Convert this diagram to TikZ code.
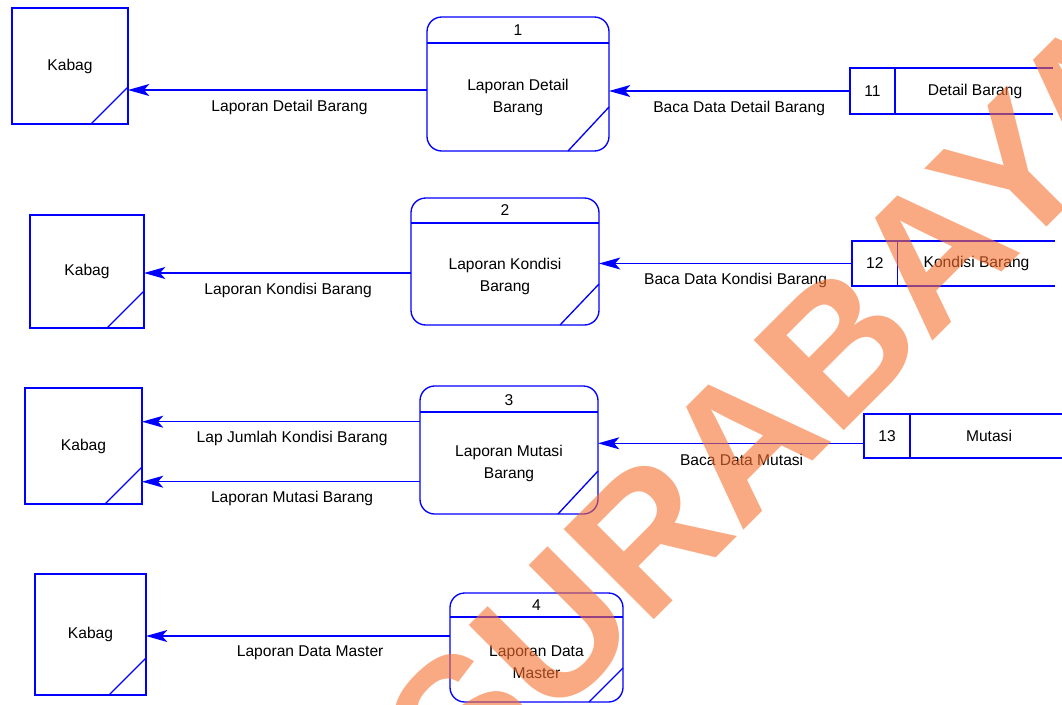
\documentclass[tikz,border=0pt]{standalone}
\usepackage{fontspec}
\setmainfont{Liberation Sans}
\usetikzlibrary{arrows.meta,calc}
\definecolor{dfdblue}{RGB}{0,0,255}
\definecolor{wmorange}{RGB}{247,113,47}
\begin{document}
\begin{tikzpicture}[x=0.75pt,y=-0.75pt,
  every node/.style={font=\fontsize{11.7}{16.5}\selectfont, inner sep=0pt, outer sep=0pt},
  line/.style={draw=dfdblue, line width=1pt},
  entity/.style={line},
  proc/.style={line, rounded corners=11pt},
  numbox/.style={},
  flow/.style={line, -{Stealth[length=16pt,width=9pt,inset=4pt]}},
  lbl/.style={pos=0.46, yshift=-12.75pt}]
\useasboundingbox (0,0) rectangle (1062,704);
\clip (0,0) rectangle (1062,704);

% ---------- Kabag entities ----------
\node[entity, minimum width=87pt, minimum height=87pt] (k1) at (70,66) {Kabag};
\node[entity, minimum width=85.5pt, minimum height=84.75pt] (k2) at (87,271.5) {Kabag};
\node[entity, minimum width=87.75pt, minimum height=87pt] (k3) at (83.5,446) {Kabag};
\node[entity, minimum width=83.25pt, minimum height=90.75pt] (k4) at (90.5,634.5) {Kabag};
\foreach \k in {k1,k2,k3,k4}
  \draw[line] ($(\k.south east)+(-37,0)$) -- ($(\k.south east)+(0,-37)$);

% ---------- Processes ----------
\node[proc, minimum width=136.5pt, minimum height=100.5pt] (p1) at (518,84) {};
\draw[line] ($(p1.north west)+(0,26)$) -- ($(p1.north east)+(0,26)$);
\node (p1n) at ($(p1.north)+(0,13)$) {1};
\node[align=center] (p1t) at ($(p1.north)+(0,80)$) {Laporan Detail\\Barang};
\draw[line] ($(p1.south east)+(-41,0)$) -- ($(p1.south east)+(0,-44)$);

\node[proc, minimum width=141pt, minimum height=95.25pt] (p2) at (505,261.5) {};
\draw[line] ($(p2.north west)+(0,25)$) -- ($(p2.north east)+(0,25)$);
\node (p2n) at ($(p2.north)+(0,12.5)$) {2};
\node[align=center] (p2t) at ($(p2.north)+(0,78)$) {Laporan Kondisi\\Barang};
\draw[line] ($(p2.south east)+(-39,0)$) -- ($(p2.south east)+(0,-41)$);

\node[proc, minimum width=133.5pt, minimum height=96pt] (p3) at (509,450) {};
\draw[line] ($(p3.north west)+(0,26)$) -- ($(p3.north east)+(0,26)$);
\node (p3n) at ($(p3.north)+(0,14)$) {3};
\node[align=center] (p3t) at ($(p3.north)+(0,77)$) {Laporan Mutasi\\Barang};
\draw[line] ($(p3.south east)+(-40,0)$) -- ($(p3.south east)+(0,-43)$);

\node[proc, minimum width=129.75pt, minimum height=81.75pt] (p4) at (536.5,647.5) {};
\draw[line] ($(p4.north west)+(0,24)$) -- ($(p4.north east)+(0,24)$);
\node (p4n) at ($(p4.north)+(0,12)$) {4};
\node[align=center] (p4t) at ($(p4.north)+(0,69)$) {Laporan Data\\Master};
\draw[line] ($(p4.south east)+(-34,0)$) -- ($(p4.south east)+(0,-34)$);

% ---------- Data stores ----------
\node[numbox, minimum width=33.75pt, minimum height=34.5pt] (s11) at (872.5,91) {11};
\draw[line] ($(s11.north west)+(203,0)$) -- (s11.north west) -- (s11.south west) -- ($(s11.south west)+(203,0)$);
\draw[line] (s11.north east) -- (s11.south east);
\node (s11t) at ($(s11.east)+(80,0)$) {Detail Barang};

\node[numbox, minimum width=34.1pt, minimum height=33.75pt] (s12) at (874.75,263.5) {12};
\draw[line] ($(s12.north west)+(203,0)$) -- (s12.north west) -- (s12.south west) -- ($(s12.south west)+(203,0)$);
\draw[line] (s12.north east) -- (s12.south east);
\node (s12t) at ($(s12.east)+(79,0)$) {Kondisi Barang};

\node[numbox, minimum width=34.5pt, minimum height=33pt] (s13) at (887,436) {13};
\draw[line] ($(s13.north west)+(210,0)$) -- (s13.north west) -- (s13.south west) -- ($(s13.south west)+(210,0)$);
\draw[line] (s13.north east) -- (s13.south east);
\node (s13t) at ($(s13.east)+(79,0)$) {Mutasi};

% ---------- Flows ----------
\path (p1.west) ++(0,6) coordinate (f1);
\draw[flow] (f1) -- node[lbl] {Laporan Detail Barang} (f1 -| k1.east);
\draw[flow] (s11.west) -- node[lbl] {Baca Data Detail Barang} (s11.west -| p1.east);

\path (p2.west) ++(0,11.5) coordinate (f2);
\draw[flow] (f2) -- node[lbl] {Laporan Kondisi Barang} (f2 -| k2.east);
\draw[flow] (s12.west) -- node[lbl] {Baca Data Kondisi Barang} (s12.west -| p2.east);

\path (p3.west) ++(0,-28.3) coordinate (f3a);
\path (p3.west) ++(0,31.7) coordinate (f3b);
\draw[flow] (f3a) -- node[lbl] {Lap Jumlah Kondisi Barang} (f3a -| k3.east);
\draw[flow] (f3b) -- node[lbl] {Laporan Mutasi Barang} (f3b -| k3.east);
\path (s13.west) ++(0,7.3) coordinate (f3c);
\draw[flow] (f3c) -- node[lbl] {Baca Data Mutasi} (f3c -| p3.east);

\path (p4.west) ++(0,-11.5) coordinate (f4);
\draw[flow] (f4) -- node[lbl] {Laporan Data Master} (f4 -| k4.east);

% ---------- Watermark ----------
\node[text=wmorange, text opacity=0.6, rotate=45, font=\fontsize{139}{139}\selectfont\bfseries] (wm) at (778,406) {SURABAYA};
\end{tikzpicture}
\end{document}
